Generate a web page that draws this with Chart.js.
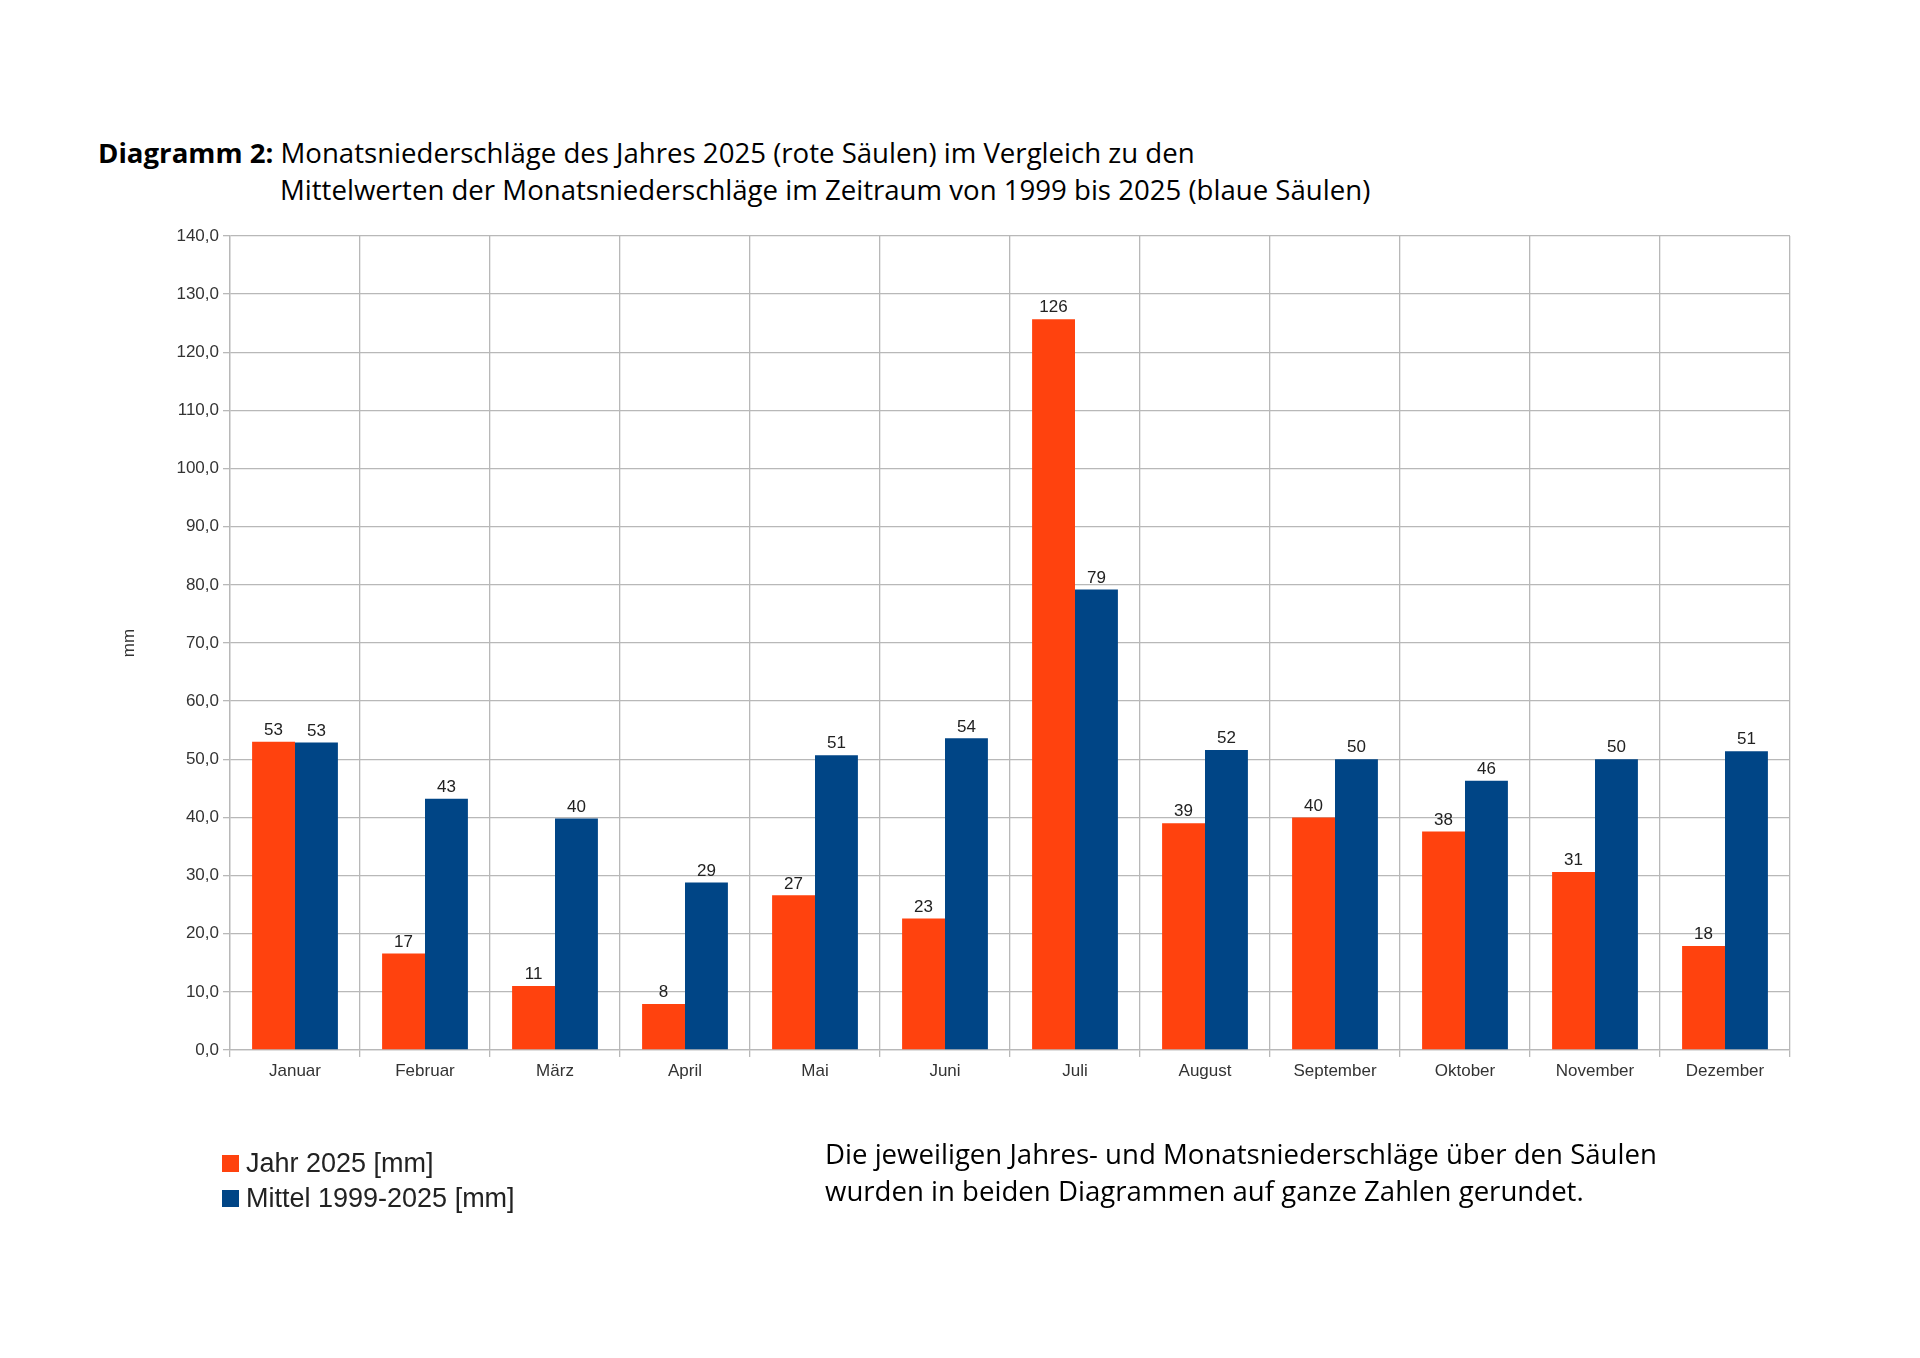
<!DOCTYPE html>
<html lang="de">
<head>
<meta charset="utf-8">
<title>Diagramm 2</title>
<script src="https://cdn.jsdelivr.net/npm/chart.js@4.4.1/dist/chart.umd.min.js"></script>
<style>
  html, body { margin: 0; padding: 0; background: #fff; }
  body { width: 1920px; height: 1358px; position: relative; overflow: hidden; }
  #wrap { position: absolute; left: 0; top: 0; width: 1920px; height: 1358px; }
  #chart1 { display: block; width: 1920px; height: 1358px; }
  .txt { position: absolute; font-family: 'Open Sans', 'Noto Sans', sans-serif; font-size: 27.6px; color: #000; white-space: nowrap; line-height: 1; }
  .legend { position: absolute; left: 222px; top: 1146px; font-family: 'Liberation Sans', Arial, sans-serif; font-size: 27px; color: #222; }
  .legend div { height: 35px; display: flex; align-items: center; }
  .legend span.box { display: inline-block; width: 17px; height: 17px; margin-right: 7px; }
</style>
</head>
<body>
<div class="txt" style="left:98px; top:139px;"><b>Diagramm 2:</b> Monatsniederschläge des Jahres 2025 (rote Säulen) im Vergleich zu den</div>
<div class="txt" style="left:280px; top:176px;">Mittelwerten der Monatsniederschläge im Zeitraum von 1999 bis 2025 (blaue Säulen)</div>

<div id="wrap"><canvas id="chart1" width="1920" height="1358"></canvas></div>

<div class="legend" id="legend"></div>

<div class="txt" style="left:825px; top:1140px;">Die jeweiligen Jahres- und Monatsniederschläge über den Säulen</div>
<div class="txt" style="left:825px; top:1177px;">wurden in beiden Diagrammen auf ganze Zahlen gerundet.</div>

<script>
'use strict';

var MONTHS = ['Januar', 'Februar', 'März', 'April', 'Mai', 'Juni', 'Juli', 'August', 'September', 'Oktober', 'November', 'Dezember'];
var JAHR_2025 = [53.0, 16.6, 11.0, 7.9, 26.6, 22.6, 125.7, 39.0, 40.0, 37.6, 30.6, 17.9];
var MITTEL = [52.9, 43.2, 39.8, 28.8, 50.7, 53.6, 79.2, 51.6, 50.0, 46.3, 50.0, 51.4];
var SERIES_NAMES = ['Jahr 2025 [mm]', 'Mittel 1999-2025 [mm]'];
var COLORS = ['#ff420e', '#004586'];

var GRID = '#b8b8b8';
var TEXT = '#333333';

// Rounded value above each bar
var valueLabels = {
  id: 'valueLabels',
  afterDatasetsDraw: function (chart) {
    var ctx = chart.ctx;
    ctx.save();
    ctx.font = '17px "Liberation Sans", Arial, sans-serif';
    ctx.fillStyle = '#222';
    ctx.textAlign = 'center';
    ctx.textBaseline = 'bottom';
    chart.data.datasets.forEach(function (ds, i) {
      chart.getDatasetMeta(i).data.forEach(function (bar, j) {
        ctx.fillText(String(Math.round(ds.data[j])), bar.x, bar.y - 3);
      });
    });
    ctx.restore();
  },
};

var ctx = document.getElementById('chart1').getContext('2d');
/* eslint-disable-next-line no-unused-vars */
var myChart = new Chart(ctx, {
  type: 'bar',
  plugins: [valueLabels],
  data: {
    labels: MONTHS,
    datasets: [
      {
        label: SERIES_NAMES[0],
        data: JAHR_2025,
        backgroundColor: COLORS[0],
      },
      {
        label: SERIES_NAMES[1],
        data: MITTEL,
        backgroundColor: COLORS[1],
      },
    ],
  },
  options: {
    responsive: false,
    maintainAspectRatio: false,
    animation: false,
    devicePixelRatio: 1,
    datasets: {
      bar: {
        categoryPercentage: 0.66,
        barPercentage: 1.0,
      },
    },
    layout: {
      padding: { left: 112, top: 236, right: 130, bottom: 268 },
    },
    plugins: {
      legend: { display: false },
      title: { display: false },
      tooltip: { enabled: false },
    },
    scales: {
      x: {
        grid: { color: GRID, lineWidth: 1.3, tickLength: 7, offset: true },
        border: { color: GRID, width: 1.3 },
        ticks: {
          color: TEXT,
          padding: 4,
          font: { family: '"Liberation Sans", Arial, sans-serif', size: 17 },
        },
        afterFit: function (scale) { scale.height = 40; },
      },
      y: {
        min: 0,
        max: 140,
        grid: { color: GRID, lineWidth: 1.3, tickLength: 7 },
        border: { color: GRID, width: 1.3 },
        ticks: {
          stepSize: 10,
          color: TEXT,
          padding: 4,
          font: { family: '"Liberation Sans", Arial, sans-serif', size: 17 },
          callback: function (v) { return v.toFixed(1).replace('.', ','); },
        },
        title: {
          display: true,
          text: 'mm',
          color: TEXT,
          padding: { top: 7, bottom: 0 },
          font: { family: '"Liberation Sans", Arial, sans-serif', size: 17 },
        },
        afterFit: function (scale) { scale.width = 118; },
      },
    },
  },
});

// legend built from the same series
var legend = document.getElementById('legend');
SERIES_NAMES.forEach(function (name, i) {
  var row = document.createElement('div');
  row.innerHTML = '<span class="box" style="background:' + COLORS[i] + '"></span>' + name;
  legend.appendChild(row);
});
</script>
</body>
</html>
